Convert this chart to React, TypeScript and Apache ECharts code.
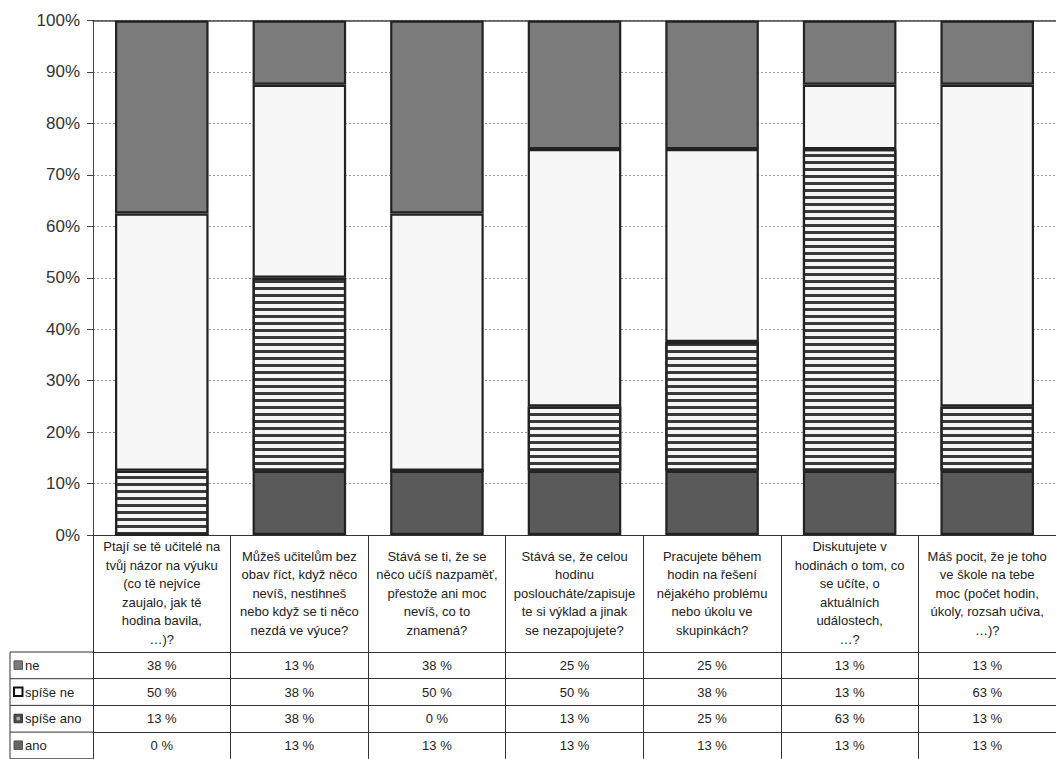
import React, { useEffect, useRef } from 'react';
import * as echarts from 'echarts';

const categories = [
  'Ptají se tě učitelé na\ntvůj názor na výuku\n(co tě nejvíce\nzaujalo, jak tě\nhodina bavila,\n…)?',
  'Můžeš učitelům bez\nobav říct, když něco\nnevíš, nestihneš\nnebo když se ti něco\nnezdá ve výuce?',
  'Stává se ti, že se\nněco učíš nazpaměť,\npřestože ani moc\nnevíš, co to\nznamená?',
  'Stává se, že celou\nhodinu\nposloucháte/zapisuje\nte si výklad a jinak\nse nezapojujete?',
  'Pracujete během\nhodin na řešení\nnějakého problému\nnebo úkolu ve\nskupinkách?',
  'Diskutujete v\nhodinách o tom, co\nse učíte, o\naktuálních\nudálostech,\n…?',
  'Máš pocit, že je toho\nve škole na tebe\nmoc (počet hodin,\núkoly, rozsah učiva,\n…)?',
];

const neValues = [37.5, 12.5, 37.5, 25, 25, 12.5, 12.5];
const spiseNeValues = [50, 37.5, 50, 50, 37.5, 12.5, 62.5];
const spiseAnoValues = [12.5, 37.5, 0, 12.5, 25, 62.5, 12.5];
const anoValues = [0, 12.5, 12.5, 12.5, 12.5, 12.5, 12.5];

const rowNames = ['ne', 'spíše ne', 'spíše ano', 'ano'];

export default function App() {
  const ref = useRef<HTMLDivElement>(null);

  useEffect(() => {
    const chart = echarts.init(ref.current!, null, { renderer: 'svg' });
    const FONT = "'Liberation Sans', Arial, sans-serif";
    const GRID_LEFT = 93;
    const GRID_TOP = 20.5;
    const GRID_BOTTOM_Y = 535;
    const CAT_W = 138.7;
    const HEADER_H = 117;
    const ROW_H = 26.7;
    const TABLE_LEFT = 10;

    const rowValues = [neValues, spiseNeValues, spiseAnoValues, anoValues];

    const baseCat = {
      type: 'category',
      data: categories,
      gridIndex: 0,
      splitLine: { show: false },
    };

    const rowAxes = rowValues.map((vals, i) => ({
      ...baseCat,
      position: 'bottom',
      offset: HEADER_H + i * ROW_H,
      axisLine: { show: true, lineStyle: { color: '#333', width: 1 } },
      axisTick: { show: true, length: ROW_H, interval: 0, lineStyle: { color: '#333', width: 1 } },
      axisLabel: {
        show: true,
        interval: 0,
        margin: ROW_H / 2,
        verticalAlign: 'middle',
        fontSize: 13,
        color: '#222',
        fontFamily: FONT,
        formatter: (_v: string, idx: number) => Math.round(vals[idx]) + ' %',
      },
    }));

    const closeAxis = {
      ...baseCat,
      position: 'bottom',
      offset: HEADER_H + 4 * ROW_H,
      axisLine: { show: true, lineStyle: { color: '#333', width: 1 } },
      axisTick: { show: false },
      axisLabel: { show: false },
    };

    const topAxis = {
      ...baseCat,
      position: 'top',
      axisLine: { show: true, lineStyle: { color: '#444', width: 1.5 } },
      axisTick: { show: false },
      axisLabel: { show: false },
    };

    const keyStyles = [
      { fill: '#7a7a7a', stroke: '#555', lineWidth: 1 },
      { fill: '#ffffff', stroke: '#111', lineWidth: 2 },
      { fill: '#4a4a4a', stroke: '#333', lineWidth: 1 },
      { fill: '#666666', stroke: '#555', lineWidth: 1 },
    ];

    const graphics: any[] = [];
    const tableTop = GRID_BOTTOM_Y + HEADER_H;
    for (let i = 0; i <= 4; i++) {
      graphics.push({
        type: 'line',
        shape: { x1: TABLE_LEFT, y1: tableTop + i * ROW_H, x2: GRID_LEFT, y2: tableTop + i * ROW_H },
        style: { stroke: '#333', lineWidth: 1 },
        silent: true,
      });
    }
    graphics.push({
      type: 'line',
      shape: { x1: TABLE_LEFT, y1: tableTop, x2: TABLE_LEFT, y2: tableTop + 4 * ROW_H },
      style: { stroke: '#333', lineWidth: 1 },
      silent: true,
    });
    rowNames.forEach((name, i) => {
      const cy = tableTop + i * ROW_H + ROW_H / 2;
      graphics.push({
        type: 'rect',
        shape: { x: 14, y: cy - 4.5, width: 8.5, height: 8.5 },
        style: keyStyles[i],
        silent: true,
      });
      if (i === 2) {
        graphics.push({
          type: 'rect',
          shape: { x: 16.5, y: cy - 2, width: 3.5, height: 3.5 },
          style: { fill: '#aaa' },
          silent: true,
        });
      }
      graphics.push({
        type: 'text',
        x: 25,
        y: cy,
        style: {
          text: name,
          fontSize: 13,
          fontFamily: FONT,
          fill: '#222',
          verticalAlign: 'middle',
          align: 'left',
        },
        silent: true,
      });
    });

    const barCommon = {
      type: 'bar',
      stack: 'total',
      xAxisIndex: 0,
      yAxisIndex: 0,
      barWidth: '68%',
      emphasis: { disabled: true },
    };

    chart.setOption({
      animation: false,
      grid: { left: GRID_LEFT, top: GRID_TOP, width: CAT_W * categories.length, height: GRID_BOTTOM_Y - GRID_TOP },
      xAxis: [
        {
          ...baseCat,
          position: 'bottom',
          axisLine: { show: true, lineStyle: { color: '#333', width: 1 } },
          axisTick: { show: true, length: HEADER_H, interval: 0, lineStyle: { color: '#333', width: 1 } },
          axisLabel: {
            show: true,
            interval: 0,
            margin: 58,
            verticalAlign: 'middle',
            align: 'center',
            fontSize: 13,
            lineHeight: 18.5,
            color: '#222',
            fontFamily: FONT,
          },
        },
        topAxis,
        ...rowAxes,
        closeAxis,
      ],
      yAxis: {
        type: 'value',
        min: 0,
        max: 100,
        interval: 10,
        axisLine: { show: true, lineStyle: { color: '#444', width: 1 } },
        axisTick: { show: true, length: 6, lineStyle: { color: '#444' } },
        axisLabel: {
          formatter: '{value}%',
          fontSize: 17,
          color: '#333',
          margin: 13,
          fontFamily: FONT,
        },
        splitLine: { show: true, lineStyle: { color: '#999', type: [2, 2], width: 1 } },
      },
      series: [
        {
          ...barCommon,
          name: 'ano',
          data: anoValues,
          itemStyle: { color: '#5a5a5a', borderColor: '#222', borderWidth: 2.2 },
        },
        {
          ...barCommon,
          name: 'spíše ano',
          data: spiseAnoValues,
          itemStyle: {
            color: '#f6f6f6',
            borderColor: '#222',
            borderWidth: 2.2,
            decal: {
              symbol: 'rect',
              symbolSize: 1,
              color: '#3a3a3a',
              dashArrayX: [1, 0],
              dashArrayY: [3, 3.5],
              rotation: 0,
            },
          },
        },
        {
          ...barCommon,
          name: 'spíše ne',
          data: spiseNeValues,
          itemStyle: { color: '#f7f7f7', borderColor: '#222', borderWidth: 2.2 },
        },
        {
          ...barCommon,
          name: 'ne',
          data: neValues,
          itemStyle: { color: '#7b7b7b', borderColor: '#222', borderWidth: 2.2 },
        },
      ],
      graphic: graphics,
    });

    return () => chart.dispose();
  }, []);

  return (
    <div
      ref={ref}
      style={{ position: 'absolute', left: 0, top: 0, width: 1056, height: 759, background: '#fff' }}
    />
  );
}
